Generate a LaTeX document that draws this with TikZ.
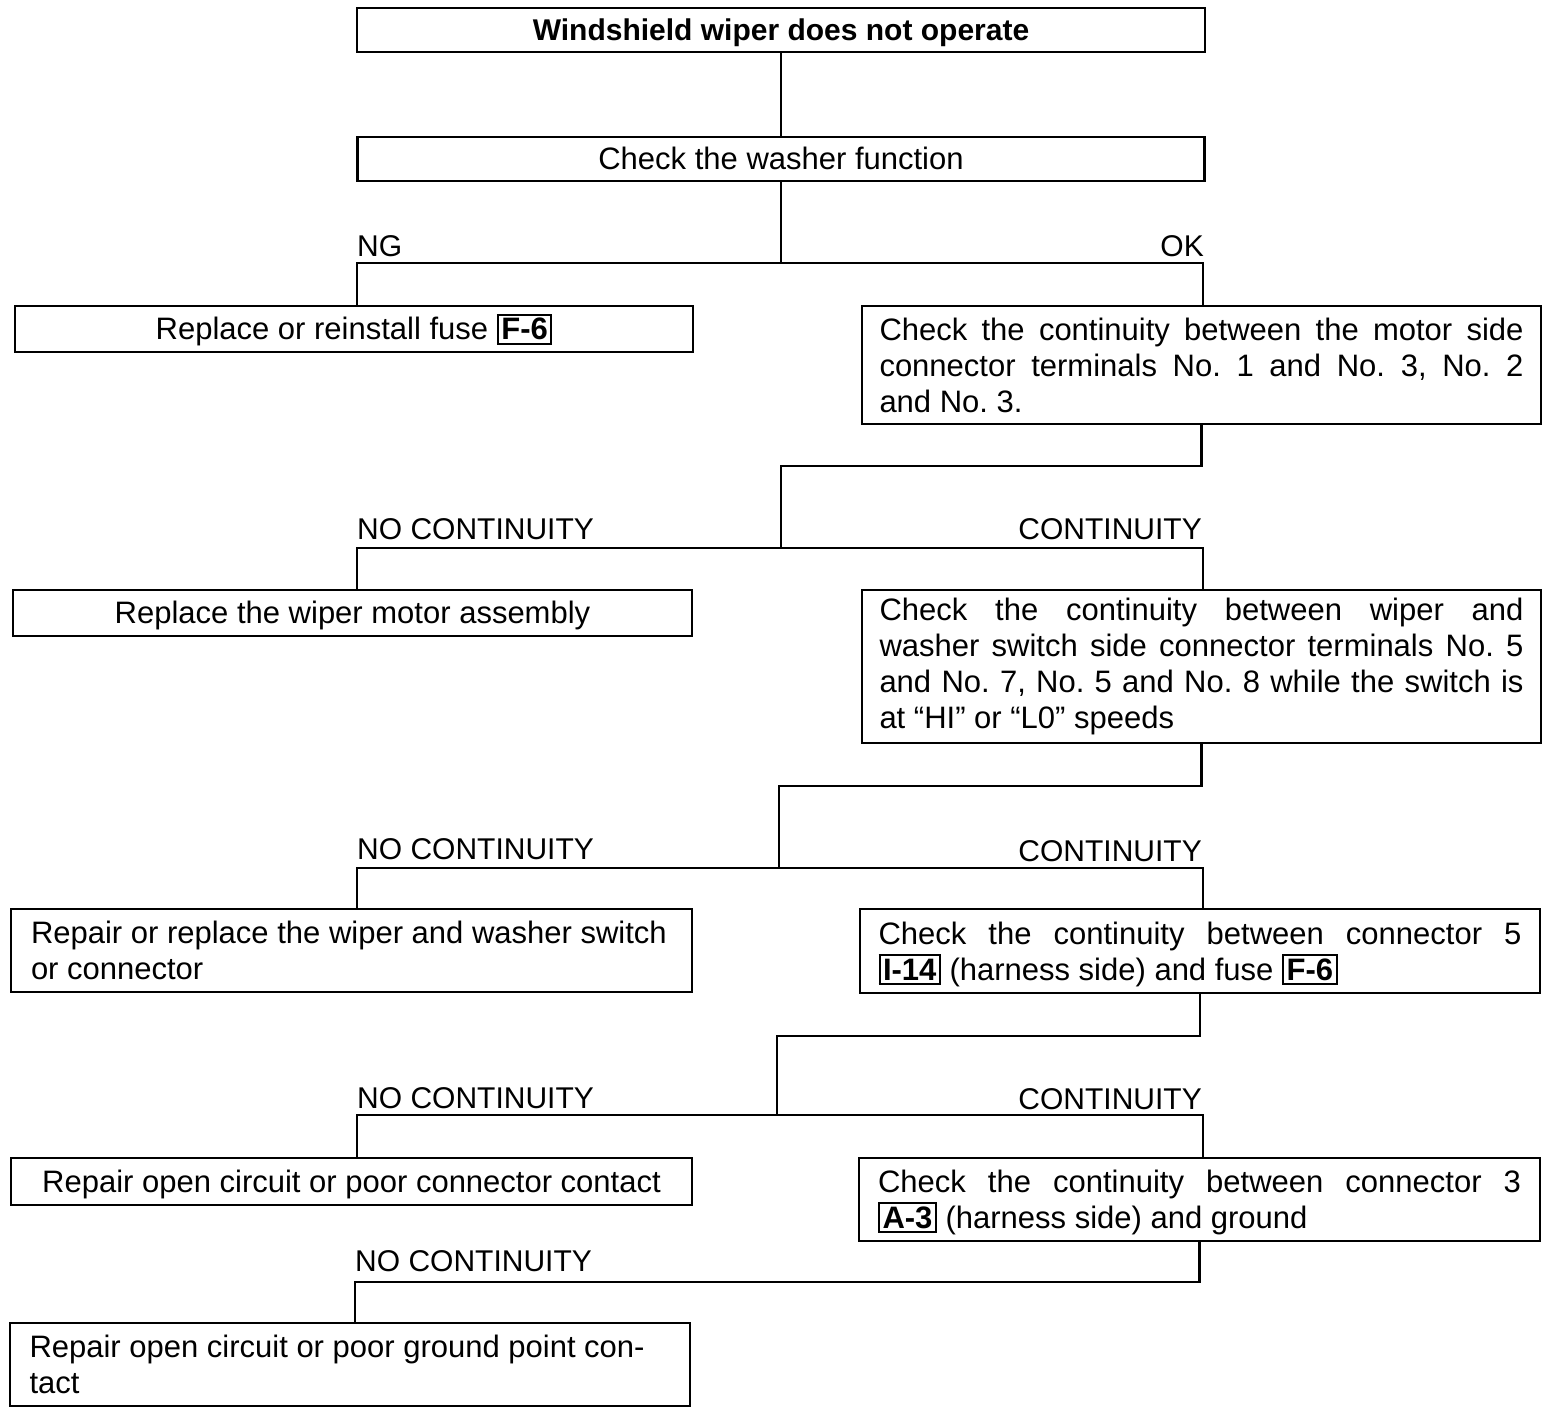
\documentclass[tikz,border=0pt]{standalone}
\usepackage{fontspec}
\setmainfont{Liberation Sans}
\frenchspacing
\newcommand{\codebox}[1]{{\setlength{\fboxsep}{2.5pt}\setlength{\fboxrule}{2pt}\fbox{\textbf{#1}}}}
\newcommand{\jline}[1]{\makebox[\linewidth][s]{#1}\par}
\begin{document}
\begin{tikzpicture}[x=1pt,y=-1pt,
  every node/.style={font=\fontsize{30}{36}\selectfont},
  box/.style={draw, line width=2.4pt, rectangle, inner sep=0pt, font=\fontsize{31}{36}\selectfont},
  single/.style={text height=21.5pt, text depth=0pt},
  conn/.style={line width=2.4pt},
  lab/.style={inner sep=0pt}]
\fill[white] (0,0) rectangle (1568,1414);
\useasboundingbox (0,0) rectangle (1568,1414);

% columns
\coordinate (L) at (357,0);
\coordinate (R) at (1203,0);

% boxes
\node[box, single, minimum width=848, minimum height=44, font=\fontsize{30}{36}\selectfont] (b1) at (781,30) {\textbf{Windshield wiper does not operate}};
\node[box, single, minimum width=847, minimum height=44] (b2) at (781,159) {Check the washer function};
\node[box, single, minimum width=678, minimum height=46] (ng) at (354,329) {Replace or reinstall fuse \codebox{F-6}};
\node[box, minimum width=679, minimum height=118] (ok) at (1201.5,365) {\parbox{644pt}{%
  \jline{Check the continuity between the motor side}
  \jline{connector terminals No. 1 and No. 3, No. 2}
  and No. 3.}};
\node[box, single, minimum width=679, minimum height=46] (rm) at (352.5,613) {Replace the wiper motor assembly};
\node[box, minimum width=679, minimum height=153] (c2) at (1201.5,666.5) {\parbox{644pt}{%
  \jline{Check the continuity between wiper and}
  \jline{washer switch side connector terminals No. 5}
  \jline{and No. 7, No. 5 and No. 8 while the switch is}
  at ``HI'' or ``L0'' speeds}};
\node[box, minimum width=681, minimum height=83] (rs) at (351.5,950.5) {\parbox{641pt}{%
  Repair or replace the wiper and washer switch\par
  or connector}};
\node[box, minimum width=680, minimum height=84] (c3) at (1200,951) {\parbox{643pt}{%
  \vspace*{6pt}%
  \jline{Check the continuity between connector 5}
  \codebox{I-14} (harness side) and fuse \codebox{F-6}}};
\node[box, single, minimum width=681, minimum height=47] (rc) at (351.5,1181.5) {Repair open circuit or poor connector contact};
\node[box, minimum width=681, minimum height=83] (c4) at (1199.5,1199.5) {\parbox{643pt}{%
  \vspace*{6pt}%
  \jline{Check the continuity between connector 3}
  \codebox{A-3} (harness side) and ground}};
\node[box, minimum width=680, minimum height=83] (rg) at (350,1364.5) {\parbox{641pt}{%
  Repair open circuit or poor ground point con-\par
  tact}};

% labels
\node[lab, anchor=base west] (l1a) at (357,256) {NG};
\node[lab, anchor=base east] (l1b) at (1204,256) {OK};
\node[lab, anchor=base west] (l2a) at (357,539) {NO CONTINUITY};
\node[lab, anchor=base east] (l2b) at (1202,539) {CONTINUITY};
\node[lab, anchor=base west] (l3a) at (357,859) {NO CONTINUITY};
\node[lab, anchor=base east] (l3b) at (1202,861) {CONTINUITY};
\node[lab, anchor=base west] (l4a) at (357,1108) {NO CONTINUITY};
\node[lab, anchor=base east] (l4b) at (1202,1109) {CONTINUITY};
\node[lab, anchor=base west] (l5a) at (355,1271) {NO CONTINUITY};

% junction points
\coordinate (j1) at (781,263);
\coordinate (k2) at (781,466);
\coordinate (s2) at (781,548);
\coordinate (k3) at (779,786);
\coordinate (s3) at (779,868);
\coordinate (k4) at (777,1036);
\coordinate (s4) at (777,1115);
\coordinate (k5) at (355,1282);

% connectors
\draw[conn] (b1.south) -- (b2.north);
\draw[conn] (b2.south) -- (j1);
\draw[conn] (ng.north -| L) -- (L |- j1) -- (R |- j1) -- (ok.north -| R);

\draw[conn] (ok.south) |- (k2) -- (s2);
\draw[conn] (rm.north -| L) -- (L |- s2) -- (R |- s2) -- (c2.north -| R);

\draw[conn] (c2.south) |- (k3) -- (s3);
\draw[conn] (rs.north -| L) -- (L |- s3) -- (R |- s3) -- (c3.north -| R);

\draw[conn] (c3.south) |- (k4) -- (s4);
\draw[conn] (rc.north -| L) -- (L |- s4) -- (R |- s4) -- (c4.north -| R);

\draw[conn] (c4.south) |- (k5) -- (k5 |- rg.north);
\end{tikzpicture}
\end{document}
